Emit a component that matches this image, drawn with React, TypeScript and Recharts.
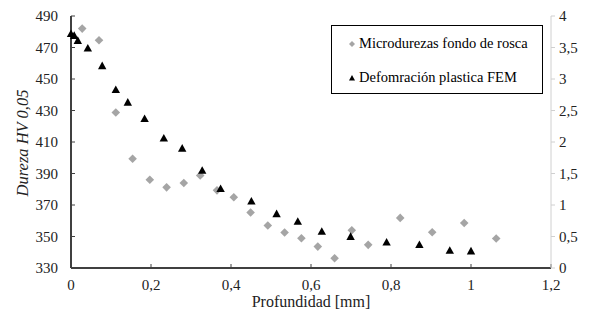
import { ScatterChart, Scatter, XAxis, YAxis, Legend } from "recharts";

const microDepth = [0.028, 0.07, 0.112, 0.154, 0.197, 0.239, 0.282, 0.323, 0.365, 0.407, 0.449, 0.492, 0.534, 0.576, 0.617, 0.659, 0.702, 0.743, 0.823, 0.903, 0.983, 1.063];
const microHardness = [482, 474.6, 428.7, 399.4, 386, 381.2, 384, 388.8, 379.3, 374.9, 365.2, 357, 352.5, 348.9, 343.6, 336.2, 354, 344.7, 361.8, 352.7, 358.6, 348.7];

const femDepth = [0, 0.008, 0.017, 0.042, 0.078, 0.112, 0.142, 0.184, 0.232, 0.278, 0.328, 0.374, 0.451, 0.514, 0.567, 0.627, 0.699, 0.789, 0.871, 0.947, 1.0];
const femStrain = [3.72, 3.69, 3.61, 3.49, 3.21, 2.83, 2.63, 2.37, 2.06, 1.9, 1.55, 1.26, 1.06, 0.86, 0.74, 0.58, 0.5, 0.41, 0.37, 0.28, 0.27];

const xTicks = [0, 0.2, 0.4, 0.6, 0.8, 1, 1.2];
const leftTicks = [330, 350, 370, 390, 410, 430, 450, 470, 490];
const rightTicks = [0, 0.5, 1, 1.5, 2, 2.5, 3, 3.5, 4];

const microData = microDepth.map((x, i) => ({ x, y: microHardness[i] }));
const femData = femDepth.map((x, i) => ({ x, y: femStrain[i] }));

const font = "Liberation Serif";
const comma = (v: number) => String(v).replace(".", ",");

const Diamond = (props: any) => {
  const { cx, cy } = props;
  const r = 4.3;
  return <polygon points={`${cx},${cy - r} ${cx + r},${cy} ${cx},${cy + r} ${cx - r},${cy}`} fill="#a5a5a5" />;
};

const Triangle = (props: any) => {
  const { cx, cy } = props;
  return <polygon points={`${cx},${cy - 4.2} ${cx + 4.2},${cy + 3.4} ${cx - 4.2},${cy + 3.4}`} fill="#000" />;
};

const LegendBox = () => (
  <div style={{ position: "relative", width: 212, height: 69, border: "1px solid #000", boxSizing: "border-box", fontFamily: font, fontSize: 14.5, color: "#000", background: "#fff" }}>
    <svg width={8} height={8} style={{ position: "absolute", left: 16, top: 14 }}>
      <polygon points="4,1 7,4 4,7 1,4" fill="#a5a5a5" />
    </svg>
    <span style={{ position: "absolute", left: 27, top: 9, whiteSpace: "nowrap" }}>Microdurezas fondo de rosca</span>
    <svg width={8} height={8} style={{ position: "absolute", left: 16, top: 48 }}>
      <polygon points="4,1 7,6.5 1,6.5" fill="#000" />
    </svg>
    <span style={{ position: "absolute", left: 27, top: 43, whiteSpace: "nowrap" }}>Defomración plastica FEM</span>
  </div>
);

// ticks drawn as plain text so the serif face sticks
const makeTick = (anchor: string, dy: number, fmt: (v: number) => string) => (props: any) => {
  const { x, y, payload } = props;
  return (
    <text x={x} y={y} dy={dy} textAnchor={anchor} fill="#222" fontSize={15} style={{ fontFamily: font }}>
      {fmt(payload.value)}
    </text>
  );
};

export default function App() {
  return (
    <div style={{ position: "absolute", left: 0, top: 0, background: "#fff", fontFamily: font }}>
      <ScatterChart width={589} height={320} margin={{ top: 16, right: 0, bottom: 12, left: 0 }}>
        <XAxis
          type="number"
          dataKey="x"
          domain={[0, 1.2]}
          ticks={xTicks}
          height={40}
          axisLine={{ stroke: "#404040", strokeWidth: 2 }}
          tickLine={{ stroke: "#404040" }}
          tickSize={-4}
          tickMargin={16}
          tick={makeTick("middle", 10, comma)}
          label={{
            content: ({ viewBox }: any) => (
              <text x={viewBox.x + viewBox.width / 2} y={307} textAnchor="middle" fill="#222" fontSize={16} style={{ fontFamily: font }}>
                Profundidad [mm]
              </text>
            ),
          }}
        />
        <YAxis
          yAxisId="left"
          type="number"
          dataKey="y"
          domain={[330, 490]}
          ticks={leftTicks}
          width={71}
          axisLine={{ stroke: "#404040", strokeWidth: 2 }}
          tickLine={{ stroke: "#404040" }}
          tickSize={-4}
          tickMargin={17}
          tick={makeTick("end", 5, String)}
          label={{
            content: ({ viewBox }: any) => {
              const cx = 23;
              const cy = viewBox.y + viewBox.height / 2 + 1;
              return (
                <text x={cx} y={cy} transform={`rotate(-90 ${cx} ${cy})`} textAnchor="middle" dy={5} fill="#222" fontSize={16.5} fontStyle="italic" style={{ fontFamily: font }}>
                  Dureza HV 0,05
                </text>
              );
            },
          }}
        />
        <YAxis
          yAxisId="right"
          orientation="right"
          type="number"
          dataKey="y"
          domain={[0, 4]}
          ticks={rightTicks}
          width={38}
          axisLine={{ stroke: "#d0d0d0" }}
          tickLine={{ stroke: "#d0d0d0" }}
          tickSize={4}
          tickMargin={4}
          tick={makeTick("start", 5, comma)}
        />
        <Legend
          layout="horizontal"
          align="center"
          verticalAlign="middle"
          content={<LegendBox />}
          wrapperStyle={{ position: "absolute", left: 331, top: 25, width: 212, height: 69 }}
        />
        <Scatter name="Microdurezas fondo de rosca" yAxisId="left" data={microData} shape={Diamond} isAnimationActive={false} />
        <Scatter name="Defomración plastica FEM" yAxisId="right" data={femData} shape={Triangle} isAnimationActive={false} />
      </ScatterChart>
    </div>
  );
}
